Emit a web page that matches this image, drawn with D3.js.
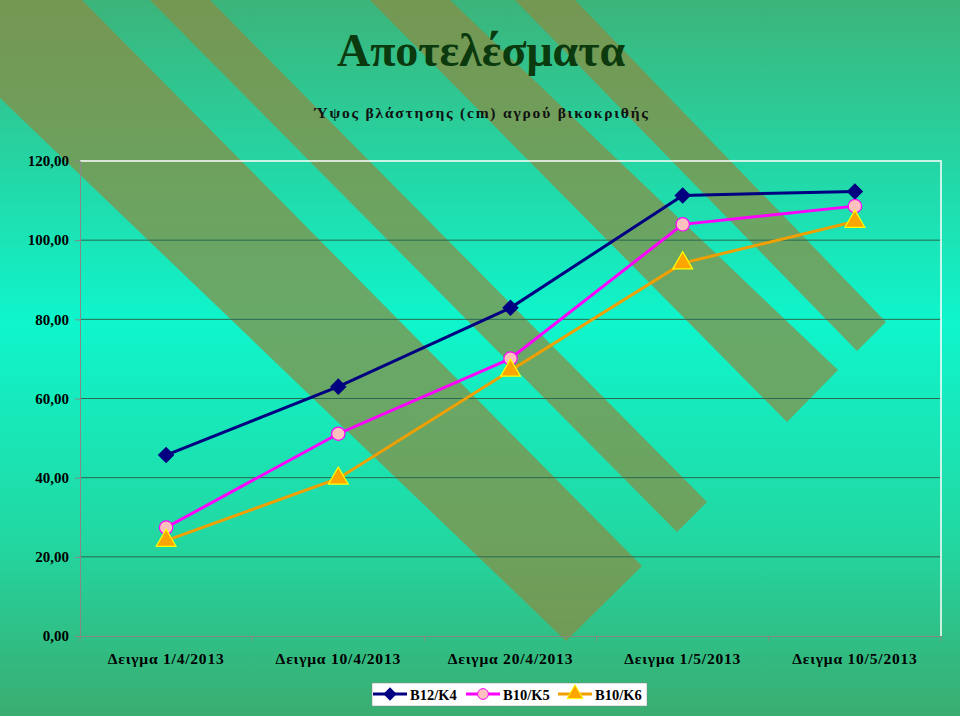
<!DOCTYPE html>
<html><head><meta charset="utf-8">
<script src="https://cdn.jsdelivr.net/npm/d3@7"></script>
<style>body{margin:0}svg{display:block}</style></head>
<body><svg id="c" width="960" height="716"></svg>
<script>
const categories = ["Δειγμα 1/4/2013","Δειγμα 10/4/2013","Δειγμα 20/4/2013","Δειγμα 1/5/2013","Δειγμα 10/5/2013"];
const seriesNames = ["B12/K4","B10/K5","B10/K6"];
const b12k4 = [45.7, 63.0, 82.9, 111.3, 112.3];
const b10k5 = [27.4, 51.1, 70.1, 104.0, 108.6];
const b10k6 = [24.1, 39.8, 67.1, 94.2, 104.7];
const yTicks = [0,20,40,60,80,100,120];

const svg = d3.select("#c");
const defs = svg.append("defs");
const g = defs.append("linearGradient").attr("id","bg").attr("x1",0).attr("y1",0).attr("x2",0).attr("y2",1);
[[0,"#3cb47a"],[0.45,"#0ff5cc"],[0.75,"#22d8a2"],[1,"#3aac70"]].forEach(s=>g.append("stop").attr("offset",s[0]).attr("stop-color",s[1]));
svg.append("rect").attr("width",960).attr("height",716).attr("fill","url(#bg)");

// decorative stripes
const stripes = [
 [[0,0],[82,0],[642,566],[566,641],[0,98]],
 [[150,0],[210,0],[707,502],[677,532]],
 [[370,0],[450,0],[838,370],[787,422]],
 [[515,0],[575,0],[886,322],[857,351]]
];
svg.selectAll("polygon.s").data(stripes).join("polygon").attr("class","s")
 .attr("points",d=>d.map(p=>p.join(",")).join(" "))
 .attr("fill","#8a8c42").attr("opacity",0.72);

const L=80,R=941,T=161,B=636;
const x = d3.scaleBand().domain(categories).range([L,R]);
const y = d3.scaleLinear().domain([0,120]).range([B,T]);

svg.selectAll("line.gr").data(yTicks.filter(t=>t>0&&t<120)).join("line")
 .attr("x1",L).attr("x2",R).attr("y1",d=>y(d)).attr("y2",d=>y(d))
 .attr("stroke","#2a6a50").attr("stroke-width",1);
svg.append("path").attr("d",`M${L},${T}H${R}V${B}`).attr("fill","none").attr("stroke","#ffffff").attr("stroke-width",1.5);

const font = "'Liberation Serif','Times New Roman',serif";
const ya = svg.append("g").attr("transform",`translate(${L},0)`)
 .call(d3.axisLeft(y).tickValues(yTicks).tickSize(5).tickFormat(d=>d3.format(".2f")(d).replace(".",",")));
ya.select(".domain").attr("stroke","#888");
ya.selectAll("line").attr("stroke","#888");
ya.selectAll("text").attr("font-family",font).attr("font-weight","bold").attr("font-size",15).attr("fill","#000").attr("x",-11);

const xa = svg.append("g").attr("transform",`translate(0,${B})`).call(d3.axisBottom(x).tickSize(0).tickPadding(17));
xa.select(".domain").attr("stroke","#888");
xa.selectAll("text").attr("font-family",font).attr("font-weight","bold").attr("font-size",15.5).attr("letter-spacing",0.8).attr("fill","#000");
svg.selectAll("line.xt").data(d3.range(categories.length+1)).join("line")
 .attr("x1",i=>L+i*x.step()).attr("x2",i=>L+i*x.step()).attr("y1",B).attr("y2",B+5).attr("stroke","#888");

svg.append("text").attr("x",481).attr("y",66).attr("text-anchor","middle").attr("font-family",font)
 .attr("font-weight","bold").attr("font-size",46).attr("fill","#0b3a0e").text("Αποτελέσματα");
svg.append("text").attr("x",482).attr("y",118).attr("text-anchor","middle").attr("font-family",font)
 .attr("font-weight","bold").attr("font-size",15.5).attr("letter-spacing",1.8).attr("fill","#111").text("Ύψος βλάστησης (cm) αγρού βικοκριθής");

const series = [
 {name:seriesNames[0],vals:b12k4,color:"#000080",marker:"diamond",fill:"#000080",stroke:"#000080"},
 {name:seriesNames[1],vals:b10k5,color:"#ff00ff",marker:"circle",fill:"#ffc0c0",stroke:"#ff00ff"},
 {name:seriesNames[2],vals:b10k6,color:"#f0a000",marker:"triangle",fill:"#ffa500",stroke:"#ffff00"}
];
const cx = i=>x(categories[i])+x.bandwidth()/2;
const types = {diamond:d3.symbolSquare,circle:d3.symbolCircle,triangle:d3.symbolTriangle};
const sizes = {diamond:110,circle:140,triangle:170};
const rot = m => m==="diamond" ? " rotate(45)" : "";
series.forEach(s=>{
 svg.append("path").datum(s.vals).attr("fill","none").attr("stroke",s.color).attr("stroke-width",3)
  .attr("d",d3.line().x((d,i)=>cx(i)).y(d=>y(d)));
 svg.selectAll(null).data(s.vals).join("path").attr("d",d3.symbol(types[s.marker],sizes[s.marker]))
  .attr("transform",(d,i)=>`translate(${cx(i)},${y(d)})${rot(s.marker)}`).attr("fill",s.fill).attr("stroke",s.stroke).attr("stroke-width",1.2);
});

const lg = svg.append("g");
lg.append("rect").attr("x",372).attr("y",683).attr("width",275).attr("height",23).attr("fill","#fff").attr("stroke","#888").attr("stroke-width",0.5);
const lx=[373,466,558];
series.forEach((s,i)=>{
 const x0=lx[i];
 lg.append("line").attr("x1",x0).attr("x2",x0+34).attr("y1",694).attr("y2",694).attr("stroke",s.color).attr("stroke-width",3);
 lg.append("path").attr("d",d3.symbol(types[s.marker],sizes[s.marker]*0.65))
  .attr("transform",`translate(${x0+17},694)${rot(s.marker)}`).attr("fill",s.fill).attr("stroke",s.stroke);
 lg.append("text").attr("x",x0+37).attr("y",699.5).attr("font-family",font).attr("font-weight","bold").attr("font-size",14.5).attr("fill","#000").text(s.name);
});
</script></body></html>
